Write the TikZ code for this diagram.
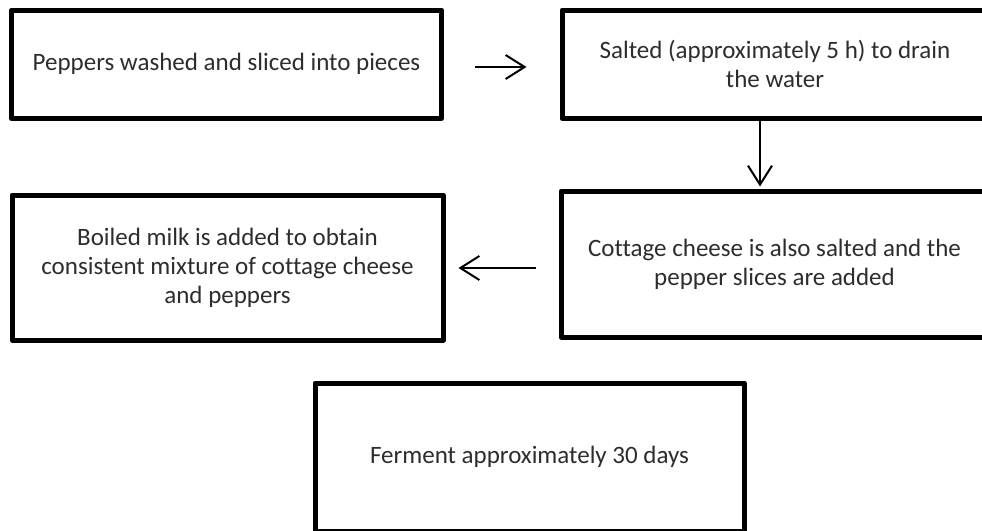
\documentclass[tikz,border=0pt]{standalone}
\usepackage{fontspec}
\setmainfont[Ligatures=NoCommon]{Carlito}
\usetikzlibrary{arrows.meta}
\definecolor{txtgray}{RGB}{45,45,45}
\begin{document}
\begin{tikzpicture}[x=1pt,y=-1pt,
  stepbox/.style={draw=black, line width=5pt, line join=round, fill=white,
    rectangle, inner sep=0pt, align=center, text=txtgray,
    font=\fontsize{25}{29}\selectfont},
  arr/.style={draw=black, line width=2pt,
    -{Straight Barb[length=19pt,width=24pt]}}]
\useasboundingbox (0,0) rectangle (982,530);
\clip (0,0) rectangle (982,530);
\fill[white] (0,0) rectangle (982,530);

\node[stepbox, minimum width=430pt, minimum height=108.5pt] (b1) at (226.5,64.25)
  {Peppers washed and sliced into pieces};
\node[stepbox, minimum width=426pt, minimum height=108.5pt] (b2) at (775,64.25)
  {Salted (approximately 5 h) to drain\\the water};
\node[stepbox, minimum width=427pt, minimum height=146pt] (b3) at (774.5,264)
  {Cottage cheese is also salted and the\\pepper slices are added};
\node[stepbox, minimum width=431pt, minimum height=145pt] (b4) at (227.5,267.5)
  {Boiled milk is added to obtain\\consistent mixture of cottage cheese\\and peppers};
\node[stepbox, minimum width=429pt, minimum height=148pt] (b5) at (529.5,457)
  {Ferment approximately 30 days};

\draw[arr, shorten <=30.5pt, shorten >=33pt] ([yshift=-2.75pt]b1.east) -- ([yshift=-2.75pt]b2.west);
\draw[arr, shorten >=2pt] ([xshift=-15pt]b2.south) -- ([xshift=-14.5pt]b3.north);
\draw[arr, shorten <=23pt, shorten >=13pt] ([yshift=-4pt]b3.west) -- ([yshift=-0.5pt]b4.east);
\end{tikzpicture}
\end{document}
